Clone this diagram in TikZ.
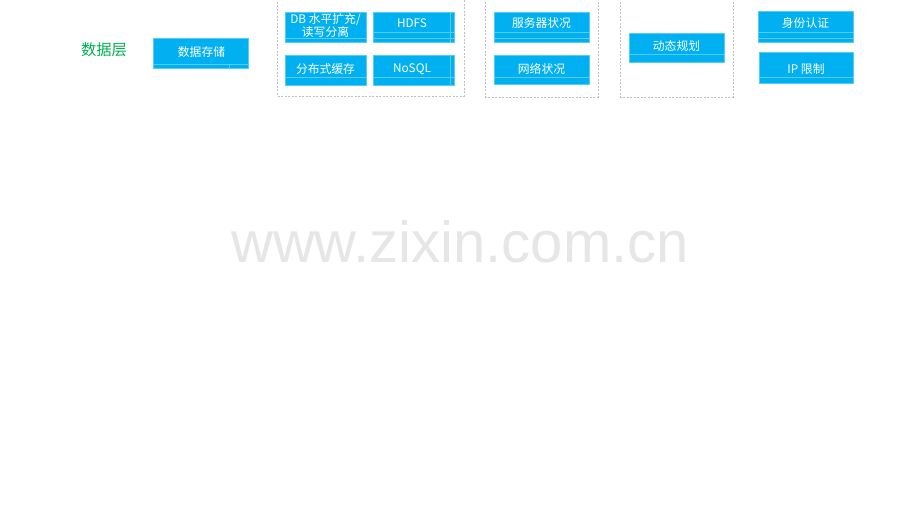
\documentclass[tikz,border=0pt]{standalone}
\usepackage{fontspec}
\setmainfont{Liberation Sans}
\newfontfamily\cjk{Noto Sans CJK SC}
\definecolor{boxblue}{HTML}{00B0F0}
\definecolor{lineblue}{HTML}{55CCF7}
\definecolor{greenlab}{HTML}{00B050}
\definecolor{dashgray}{HTML}{BFBFBF}
\definecolor{wmgray}{HTML}{E6E6E6}
\begin{document}
\begin{tikzpicture}[x=1pt,y=-1pt,
  bluebox/.style={fill=boxblue,draw=lineblue,line width=0.5pt},
  boxtxt/.style={text=white,font=\cjk\fontsize{11.8}{13}\selectfont,inner sep=0pt,align=center},
  faint/.style={draw=lineblue,line width=0.5pt},
  grp/.style={draw=dashgray,dashed,line width=0.6pt,dash pattern=on 2pt off 1.5pt}]
\useasboundingbox (0,0) rectangle (920,518);
\fill[white] (0,0) rectangle (920,518);
% watermark
\node[text=wmgray,font=\fontsize{58}{60}\selectfont,inner sep=0pt] (wm) at (460,242) {www.zixin.com.cn};
% layer label
\node[text=greenlab,font=\cjk\fontsize{15.3}{17}\selectfont,inner sep=0pt] (layer) at (104,50) {数据层};
% groups
\draw[grp] (277,-5) rectangle (464,96);
\draw[grp] (485,-5) rectangle (598,97);
\draw[grp] (620,-5) rectangle (733,97);
% boxes
\path[bluebox] (153,38) rectangle (248,68);
\draw[faint] (153,64) -- (248,64);
\draw[faint] (229,64) -- (229,68);
\node[boxtxt] (b0) at (201.5,52.5) {数据存储};

\path[bluebox] (285,12) rectangle (366,42);
\draw[faint] (285,38) -- (366,38);
\node[boxtxt] (b1) at (325.5,25.5) {DB 水平扩充/\\读写分离};

\path[bluebox] (373,12) rectangle (454,42);
\draw[faint] (373,32) -- (454,32);
\draw[faint] (373,38) -- (454,38);
\draw[faint] (450,12) -- (450,42);
\node[boxtxt] (b2) at (412,23.5) {HDFS};

\path[bluebox] (285,55) rectangle (366,85);
\draw[faint] (285,77) -- (366,77);
\node[boxtxt] (b3) at (325.5,69) {分布式缓存};

\path[bluebox] (373,55) rectangle (454,85);
\draw[faint] (373,77) -- (454,77);
\draw[faint] (450,55) -- (450,85);
\node[boxtxt] (b4) at (412,69) {NoSQL};

\path[bluebox] (494,12) rectangle (589,42);
\draw[faint] (494,32) -- (589,32);
\draw[faint] (494,38) -- (589,38);
\node[boxtxt] (b5) at (541.5,23.5) {服务器状况};

\path[bluebox] (494,55) rectangle (589,84);
\draw[faint] (494,77) -- (589,77);
\node[boxtxt] (b6) at (541.5,69) {网络状况};

\path[bluebox] (629,33) rectangle (724,62);
\draw[faint] (629,54) -- (724,54);
\node[boxtxt] (b7) at (676.5,45.5) {动态规划};

\path[bluebox] (758,11) rectangle (853,42);
\draw[faint] (758,32) -- (853,32);
\draw[faint] (758,38) -- (853,38);
\node[boxtxt] (b8) at (805.5,23) {身份认证};

\path[bluebox] (759,52) rectangle (853,83);
\draw[faint] (759,77) -- (853,77);
\node[boxtxt] (b9) at (806,69) {IP 限制};
\end{tikzpicture}
\end{document}
